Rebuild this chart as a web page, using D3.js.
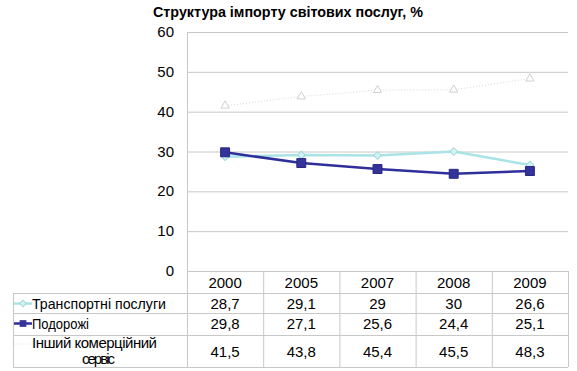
<!DOCTYPE html>
<html>
<head>
<meta charset="utf-8">
<script src="https://cdn.jsdelivr.net/npm/d3@7"></script>
<style>
  body { margin: 0; background: #fff; }
  svg text { font-family: "Liberation Sans", Arial, sans-serif; fill: #000; }
</style>
</head>
<body>
<div id="chart"></div>
<script>
// data
const years = ['2000', '2005', '2007', '2008', '2009'];
const transport = [28.7, 29.1, 29, 30, 26.6];
const travel = [29.8, 27.1, 25.6, 24.4, 25.1];
const other = [41.5, 43.8, 45.4, 45.5, 48.3];
const seriesNames = ['Транспортні послуги', 'Подорожі', 'Інший комерційний сервіс'];
const yTicks = [0, 10, 20, 30, 40, 50, 60];

const width = 577, height = 371;
const plot = { left: 187, right: 568, top: 32, bottom: 271 };
const tableLeft = 13;
const rowEdges = [271, 293, 313, 335, 367];

const svg = d3.select('#chart').append('svg')
    .attr('width', width).attr('height', height);

svg.append('text')
    .attr('x', 153).attr('y', 17)
    .attr('font-size', 14).attr('font-weight', 'bold')
    .attr('textLength', 270).attr('lengthAdjust', 'spacingAndGlyphs')
    .text('Структура імпорту світових послуг, %');

const x = d3.scaleBand().domain(years).range([plot.left, plot.right]);
const y = d3.scaleLinear().domain([0, 60]).range([plot.bottom, plot.top]);

// gridlines
svg.append('g').selectAll('line').data(yTicks).join('line')
    .attr('x1', plot.left).attr('x2', plot.right)
    .attr('y1', d => y(d) + 0.5).attr('y2', d => y(d) + 0.5)
    .attr('stroke', '#c8c8c8').attr('stroke-width', 1);

svg.append('line')
    .attr('x1', plot.left + 0.5).attr('x2', plot.left + 0.5)
    .attr('y1', plot.top).attr('y2', rowEdges[1])
    .attr('stroke', '#c8c8c8');

svg.append('g').selectAll('text').data(yTicks).join('text')
    .attr('x', 174).attr('y', d => y(d) + 5)
    .attr('text-anchor', 'end').attr('font-size', 15)
    .text(d => d);

const line = d3.line().x((d, i) => x(years[i]) + x.bandwidth() / 2).y(d => y(d));

// other commercial services: faint dotted with triangles
svg.append('path').datum(other)
    .attr('d', line).attr('fill', 'none')
    .attr('stroke', '#d8d8d8').attr('stroke-width', 1).attr('stroke-dasharray', '1,2');
svg.append('g').selectAll('path').data(other).join('path')
    .attr('transform', (d, i) => `translate(${x(years[i]) + x.bandwidth() / 2},${y(d)})`)
    .attr('d', d3.symbol(d3.symbolTriangle, 30))
    .attr('fill', '#fff').attr('stroke', '#d0d0d0');

// transport: light cyan with diamonds
svg.append('path').datum(transport)
    .attr('d', line).attr('fill', 'none')
    .attr('stroke', '#a8e4e6').attr('stroke-width', 2.5);
svg.append('g').selectAll('path').data(transport).join('path')
    .attr('transform', (d, i) => `translate(${x(years[i]) + x.bandwidth() / 2},${y(d)}) rotate(45)`)
    .attr('d', d3.symbol(d3.symbolSquare, 30))
    .attr('fill', '#d4f2f2').attr('stroke', '#a0d8dc');

// travel: dark blue with squares
svg.append('path').datum(travel)
    .attr('d', line).attr('fill', 'none')
    .attr('stroke', '#2f2f9c').attr('stroke-width', 2.5);
svg.append('g').selectAll('path').data(travel).join('path')
    .attr('transform', (d, i) => `translate(${x(years[i]) + x.bandwidth() / 2},${y(d)})`)
    .attr('d', d3.symbol(d3.symbolSquare, 80))
    .attr('fill', '#33339a').attr('stroke', '#28287f');

// data table
const tbl = svg.append('g');
const border = '#c8c8c8';
rowEdges.forEach((ry, i) => {
    tbl.append('line')
        .attr('x1', i === 0 ? plot.left : tableLeft).attr('x2', plot.right)
        .attr('y1', ry + 0.5).attr('y2', ry + 0.5).attr('stroke', border);
});
tbl.append('line').attr('x1', tableLeft + 0.5).attr('x2', tableLeft + 0.5)
    .attr('y1', rowEdges[1]).attr('y2', rowEdges[4]).attr('stroke', border);
years.forEach(yr => {
    tbl.append('line').attr('x1', x(yr) + 0.5).attr('x2', x(yr) + 0.5)
        .attr('y1', rowEdges[0]).attr('y2', rowEdges[4]).attr('stroke', border);
});
tbl.append('line').attr('x1', plot.right + 0.5).attr('x2', plot.right + 0.5)
    .attr('y1', rowEdges[0]).attr('y2', rowEdges[4]).attr('stroke', border);

// header
tbl.selectAll('text.year').data(years).join('text').classed('year', true)
    .attr('x', d => x(d) + x.bandwidth() / 2).attr('y', 288)
    .attr('text-anchor', 'middle').attr('font-size', 15).text(d => d);

const fmt = v => String(v).replace('.', ',');
const rows = [transport, travel, other];
const rowText = [309, 329, 357];
rows.forEach((vals, r) => {
    tbl.append('g').selectAll('text').data(vals).join('text')
        .attr('x', (d, i) => x(years[i]) + x.bandwidth() / 2).attr('y', rowText[r])
        .attr('text-anchor', 'middle').attr('font-size', 15).text(fmt);
});

// legend keys + names
const keyX = 14, keyW = 18;
const k1 = 303.5, k2 = 323.5, k3 = 344;
tbl.append('line').attr('x1', keyX).attr('x2', keyX + keyW).attr('y1', k1).attr('y2', k1)
    .attr('stroke', '#a8e4e6').attr('stroke-width', 2.5);
tbl.append('path').attr('transform', `translate(${keyX + keyW / 2},${k1}) rotate(45)`)
    .attr('d', d3.symbol(d3.symbolSquare, 22)).attr('fill', '#d4f2f2').attr('stroke', '#a0d8dc');
tbl.append('line').attr('x1', keyX).attr('x2', keyX + keyW).attr('y1', k2).attr('y2', k2)
    .attr('stroke', '#2f2f9c').attr('stroke-width', 2.5);
tbl.append('path').attr('transform', `translate(${keyX + keyW / 2},${k2})`)
    .attr('d', d3.symbol(d3.symbolSquare, 45)).attr('fill', '#33339a');
tbl.append('line').attr('x1', keyX).attr('x2', keyX + keyW).attr('y1', k3).attr('y2', k3)
    .attr('stroke', '#e0e0e0').attr('stroke-dasharray', '1,2');

tbl.append('text').attr('x', 32).attr('y', 309).attr('font-size', 15)
    .attr('textLength', 134).attr('lengthAdjust', 'spacingAndGlyphs').text(seriesNames[0]);
tbl.append('text').attr('x', 32).attr('y', 329).attr('font-size', 15)
    .attr('textLength', 57).attr('lengthAdjust', 'spacingAndGlyphs').text(seriesNames[1]);
const t3 = tbl.append('text').attr('font-size', 15).attr('lengthAdjust', 'spacingAndGlyphs');
t3.append('tspan').attr('x', 32).attr('y', 348).attr('textLength', 125).text('Інший комерційний');
t3.append('tspan').attr('x', 82).attr('y', 364).attr('textLength', 33).text('сервіс');
</script>
</body>
</html>
